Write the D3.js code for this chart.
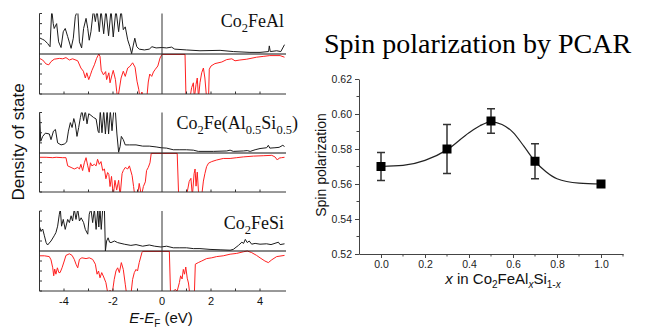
<!DOCTYPE html>
<html><head><meta charset="utf-8">
<script src="https://cdn.jsdelivr.net/npm/d3@7"></script>
<style>html,body{margin:0;padding:0;background:#fff;} svg{display:block;}</style>
</head><body>
<script>
// ---------- DOS data: [E (eV), DOS (panel units, 1 = top of panel)] ----------
const dosAlUp = [[-5.0,0.40],[-4.87,0.36],[-4.8,0.34],[-4.67,0.26],[-4.57,0.18],[-4.5,1.1],[-4.44,0.75],[-4.4,0.63],[-4.3,0.75],[-4.22,0.30],[-4.12,0.16],[-4.03,0.55],[-3.95,0.63],[-3.85,0.43],[-3.71,0.14],[-3.62,0.39],[-3.54,0.92],[-3.44,1.1],[-3.37,0.30],[-3.28,0.15],[-3.2,0.63],[-3.1,0.88],[-3.03,0.63],[-2.97,0.34],[-2.9,0.55],[-2.8,1.1],[-2.72,0.8],[-2.65,1.1],[-2.56,0.55],[-2.49,1.1],[-2.38,0.5],[-2.29,1.1],[-2.18,0.45],[-2.08,1.1],[-1.99,0.42],[-1.88,1.1],[-1.77,0.55],[-1.67,1.1],[-1.58,0.6],[-1.5,0.67],[-1.4,0.35],[-1.31,0.18],[-1.24,0.01],[-1.17,0.22],[-1.11,0.39],[-1.03,0.18],[-0.93,0.12],[-0.72,0.10],[-0.52,0.12],[-0.41,0.18],[-0.24,0.15],[0,0.16],[0.19,0.15],[0.39,0.17],[0.52,0.12],[1.0,0.10],[1.55,0.08],[2.37,0.09],[2.91,0.06],[3.59,0.04],[4.0,0.04],[4.35,0.06],[4.38,0.2],[4.42,0.06],[4.68,0.08],[4.85,0.06],[5.0,0.23]];
const dosAlDn = [[-5.0,-0.11],[-4.87,-0.15],[-4.73,-0.25],[-4.62,-0.27],[-4.53,-0.19],[-4.4,-0.13],[-4.19,-0.11],[-4.05,-0.12],[-3.92,-0.09],[-3.78,-0.15],[-3.65,-0.12],[-3.44,-0.17],[-3.31,-0.35],[-3.21,-0.43],[-3.13,-0.6],[-3.07,-0.47],[-2.99,-0.64],[-2.92,-0.52],[-2.86,-0.41],[-2.76,-0.27],[-2.67,-0.11],[-2.58,0],[-2.53,-0.06],[-2.48,-0.41],[-2.39,-0.52],[-2.3,-0.44],[-2.26,-0.64],[-2.17,-0.47],[-2.12,-0.72],[-2.04,-0.52],[-1.99,-0.41],[-1.9,-0.64],[-1.85,-0.93],[-1.81,-1.1],[-1.76,-0.95],[-1.67,-0.6],[-1.58,-0.43],[-1.5,-0.56],[-1.4,-0.35],[-1.31,-0.31],[-1.2,-0.22],[-1.1,-0.33],[-1.02,-0.68],[-0.95,-0.88],[-0.9,-1.1],[-0.82,-0.95],[-0.76,-1.1],[-0.62,-1.1],[-0.56,-0.7],[-0.5,-0.5],[-0.42,-0.56],[-0.35,-0.45],[-0.27,-0.38],[-0.17,-0.3],[-0.08,-0.1],[0,-0.01],[0.94,-0.01],[0.98,-1.1],[1.14,-1.1],[1.21,-0.84],[1.28,-0.72],[1.32,-1.1],[1.39,-0.76],[1.44,-0.6],[1.49,-1.1],[1.55,-0.72],[1.62,-0.47],[1.69,-0.35],[1.75,-0.6],[1.82,-1.1],[1.9,-1.1],[1.93,-0.38],[2.0,-0.3],[2.16,-0.24],[2.44,-0.2],[2.64,-0.14],[2.85,-0.12],[2.98,-0.17],[3.18,-0.15],[3.46,-0.13],[3.86,-0.08],[4.13,-0.06],[4.4,-0.04],[4.82,-0.04],[5.0,-0.08]];
const dosMixUp = [[-5.0,1.05],[-4.95,0.29],[-4.87,0.41],[-4.76,0.49],[-4.6,0.47],[-4.53,0.33],[-4.43,0.54],[-4.35,0.58],[-4.26,0.25],[-4.12,0.2],[-3.99,0.22],[-3.89,0.27],[-3.82,0.54],[-3.74,0.75],[-3.67,0.63],[-3.6,0.85],[-3.54,0.72],[-3.47,0.41],[-3.4,0.63],[-3.33,0.88],[-3.27,1.05],[-3.2,0.8],[-3.13,1.05],[-3.06,0.72],[-2.99,0.97],[-2.9,0.93],[-2.8,0.88],[-2.69,0.84],[-2.61,0.54],[-2.57,0.5],[-2.52,1.05],[-2.45,0.5],[-2.38,1.05],[-2.31,0.47],[-2.24,1.05],[-2.18,0.47],[-2.11,1.05],[-2.04,0.55],[-1.97,1.05],[-1.9,1.0],[-1.84,0.47],[-1.77,0.02],[-1.71,0.16],[-1.66,0.41],[-1.58,0.33],[-1.5,0.2],[-1.33,0.2],[-1.06,0.2],[-0.79,0.17],[-0.52,0.17],[-0.24,0.15],[-0.04,0.13],[0.19,0.12],[0.46,0.08],[0.73,0.08],[1.0,0.08],[1.28,0.07],[1.48,0.04],[2.1,0.04],[2.64,0.05],[2.78,0.07],[2.91,0.04],[3.32,0.05],[3.48,0.06],[3.6,0.04],[3.8,0.08],[4.0,0.11],[4.27,0.13],[4.34,0.19],[4.4,0.12],[4.61,0.13],[4.78,0.14],[4.93,0.19],[5.0,0.16]];
const dosMixDn = [[-5.0,-0.11],[-4.73,-0.11],[-4.46,-0.12],[-4.32,-0.11],[-4.05,-0.12],[-3.92,-0.12],[-3.85,-0.33],[-3.71,-0.37],[-3.58,-0.41],[-3.44,-0.37],[-3.37,-0.41],[-3.31,-0.29],[-3.24,-0.45],[-3.17,-0.25],[-3.1,-0.12],[-3.03,-0.33],[-2.97,-0.49],[-2.92,-0.25],[-2.86,-0.33],[-2.76,-0.29],[-2.69,-0.33],[-2.63,-0.16],[-2.56,-0.29],[-2.49,-0.22],[-2.42,-0.45],[-2.35,-0.41],[-2.29,-0.66],[-2.22,-0.5],[-2.17,-0.55],[-2.12,-0.86],[-2.06,-0.6],[-1.99,-1.1],[-1.92,-0.7],[-1.85,-0.95],[-1.77,-0.7],[-1.71,-1.1],[-1.63,-0.53],[-1.58,-0.45],[-1.5,-0.37],[-1.4,-0.41],[-1.33,-0.33],[-1.22,-0.58],[-1.16,-0.86],[-1.11,-1.1],[-1.0,-1.1],[-0.93,-0.78],[-0.84,-1.1],[-0.76,-0.86],[-0.68,-0.74],[-0.63,-0.45],[-0.56,-0.37],[-0.49,-0.25],[-0.44,-0.01],[0.62,-0.01],[0.68,-1.1],[1.0,-1.1],[1.11,-0.73],[1.18,-0.65],[1.24,-1.1],[1.31,-0.53],[1.35,-0.41],[1.39,-0.85],[1.44,-0.49],[1.5,-1.1],[1.62,-1.1],[1.69,-0.72],[1.75,-0.53],[1.82,-0.35],[1.9,-0.26],[2.03,-0.22],[2.23,-0.18],[2.5,-0.14],[2.78,-0.14],[3.05,-0.12],[3.32,-0.10],[3.73,-0.08],[4.13,-0.07],[4.48,-0.06],[4.61,-0.1],[4.71,-0.18],[4.78,-0.13],[4.88,-0.12],[5.0,-0.11]];
const dosSiUp = [[-5.0,0.61],[-4.94,0.5],[-4.87,0.55],[-4.8,0.38],[-4.73,0.21],[-4.67,0.15],[-4.53,0.25],[-4.4,0.38],[-4.33,0.46],[-4.26,0.62],[-4.19,0.92],[-4.15,1.05],[-4.1,0.62],[-4.03,0.79],[-3.95,0.54],[-3.85,0.79],[-3.78,0.71],[-3.71,0.88],[-3.65,0.75],[-3.58,1.05],[-3.51,0.79],[-3.44,1.05],[-3.37,0.75],[-3.3,0.83],[-3.2,0.71],[-3.13,0.54],[-3.03,0.42],[-2.97,0.92],[-2.9,1.05],[-2.83,0.71],[-2.76,1.05],[-2.69,0.54],[-2.62,1.05],[-2.58,0.6],[-2.53,1.05],[-2.48,0.54],[-2.42,1.05],[-2.35,1.05],[-2.31,0],[-2.26,0.25],[-2.2,0.33],[-2.14,0.22],[-2.08,0.21],[-1.94,0.25],[-1.81,0.21],[-1.54,0.17],[-1.27,0.14],[-1.06,0.16],[-0.79,0.12],[-0.52,0.15],[-0.3,0.12],[-0.04,0.10],[0.19,0.12],[0.46,0.08],[0.73,0.08],[1.0,0.08],[1.28,0.06],[1.55,0.06],[1.96,0.04],[2.37,0.03],[2.78,0.02],[2.91,0.04],[3.12,0.14],[3.26,0.22],[3.33,0.19],[3.4,0.29],[3.48,0.21],[3.56,0.25],[3.66,0.17],[3.8,0.19],[4.0,0.17],[4.27,0.18],[4.45,0.16],[4.75,0.22],[4.82,0.16],[5.0,0.18]];
const dosSiDn = [[-5.0,-0.12],[-4.8,-0.12],[-4.6,-0.14],[-4.53,-0.22],[-4.46,-0.42],[-4.42,-0.62],[-4.38,-0.45],[-4.33,-0.58],[-4.27,-0.42],[-4.21,-0.54],[-4.16,-0.54],[-4.08,-0.42],[-3.99,-0.25],[-3.92,-0.11],[-3.78,-0.07],[-3.67,-0.11],[-3.58,-0.21],[-3.51,-0.33],[-3.44,-0.42],[-3.37,-0.21],[-3.27,-0.17],[-3.1,-0.19],[-2.97,-0.17],[-2.83,-0.21],[-2.72,-0.33],[-2.65,-0.58],[-2.59,-0.5],[-2.53,-0.67],[-2.46,-0.54],[-2.38,-0.65],[-2.29,-0.79],[-2.2,-1.1],[-2.12,-0.98],[-2.04,-1.1],[-1.95,-0.71],[-1.88,-0.5],[-1.81,-0.42],[-1.74,-0.54],[-1.66,-0.29],[-1.58,-0.46],[-1.5,-0.83],[-1.44,-1.1],[-1.27,-1.1],[-1.2,-0.71],[-1.13,-0.54],[-1.06,-0.46],[-1.0,-0.5],[-0.93,-0.29],[-0.82,-0.04],[-0.79,-0.01],[0.3,-0.01],[0.35,-1.1],[0.53,-0.96],[0.62,-1.0],[0.71,-0.79],[0.76,-0.62],[0.82,-0.7],[0.87,-0.46],[0.92,-0.58],[0.97,-0.4],[1.03,-0.68],[1.08,-0.8],[1.14,-1.1],[1.32,-1.1],[1.36,-0.33],[1.48,-0.29],[1.62,-0.25],[1.82,-0.19],[2.03,-0.17],[2.23,-0.14],[2.5,-0.12],[2.78,-0.08],[3.05,-0.06],[3.32,-0.02],[3.48,0],[3.66,-0.04],[3.86,-0.11],[4.0,-0.17],[4.2,-0.25],[4.34,-0.29],[4.48,-0.22],[4.68,-0.14],[5.0,-0.11]];
const energyTicks = [-4,-2,0,2,4];
const energyMinor = [-4,-3,-2,-1,1,2,3,4];
const dosTicks = [-1,-0.75,-0.5,-0.25,0.25,0.5,0.75,1];

// ---------- PCAR data ----------
const xComp = [0.0, 0.3, 0.5, 0.7, 1.0];
const spinPol = [0.570, 0.580, 0.596, 0.573, 0.560];
const spinErr = [0.008, 0.014, 0.007, 0.010, 0.0];
const fitX = [0.0, 0.1, 0.2, 0.3, 0.4, 0.45, 0.5, 0.55, 0.6, 0.65, 0.7, 0.75, 0.8, 0.9, 1.0];
const fitY = [0.5700, 0.5706, 0.5735, 0.5795, 0.5893, 0.5933, 0.5955, 0.5940, 0.5895, 0.5815, 0.5730, 0.5670, 0.5630, 0.5605, 0.5600];
const yTicks = [0.52, 0.54, 0.56, 0.58, 0.60, 0.62];
const yMinor = [0.53, 0.55, 0.57, 0.59, 0.61];
const xTicks = [0.0, 0.2, 0.4, 0.6, 0.8, 1.0];
const xMinor = [0.1, 0.3, 0.5, 0.7, 0.9, 1.1];

const W = 648, H = 329;
const sans = "'Liberation Sans', Arial, Helvetica, sans-serif";
const serif = "'Liberation Serif', 'Times New Roman', Times, serif";
const svg = d3.select("body").append("svg").attr("width", W).attr("height", H);
svg.append("rect").attr("width", W).attr("height", H).attr("fill", "#fff");

// ================= DOS panels =================
const xDos = d3.scaleLinear().domain([-5, 5]).range([39.5, 284.5]);
const panels = [
  {top: 13.5, zero: 54, bottom: 94, up: dosAlUp, dn: dosAlDn, lx: 284, ly: 26.5,
   label: [["Co",0],["2",1],["FeAl",0]]},
  {top: 112.5, zero: 153, bottom: 192, up: dosMixUp, dn: dosMixDn, lx: 298, ly: 129,
   label: [["Co",0],["2",1],["Fe(Al",0],["0.5",1],["Si",0],["0.5",1],[")",0]]},
  {top: 211, zero: 251, bottom: 291, up: dosSiUp, dn: dosSiDn, lx: 284, ly: 229,
   label: [["Co",0],["2",1],["FeSi",0]]}
];
panels.forEach((p, i) => {
  const y = d3.scaleLinear().domain([-1, 0, 1]).range([p.bottom, p.zero, p.top]);
  const g = svg.append("g");
  const cid = "clipdos" + i;
  svg.append("clipPath").attr("id", cid).append("rect")
    .attr("x", xDos(-5)).attr("y", p.top).attr("width", xDos(5) - xDos(-5) + 1).attr("height", p.bottom - p.top);
  const line = d3.line().x(d => xDos(d[0])).y(d => y(d[1]));
  g.append("path").datum(p.dn).attr("d", line).attr("fill", "none")
    .attr("stroke", "#ff2020").attr("stroke-width", 1).attr("clip-path", `url(#${cid})`);
  g.append("path").datum(p.up).attr("d", line).attr("fill", "none")
    .attr("stroke", "#1c1c1c").attr("stroke-width", 1).attr("clip-path", `url(#${cid})`);
  // frame lines
  const ax = "#333";
  g.append("line").attr("x1", xDos(-5)).attr("x2", xDos(-5)).attr("y1", p.top).attr("y2", p.bottom).attr("stroke", ax);
  g.append("line").attr("x1", xDos(-5)).attr("x2", xDos(5) + 1.5).attr("y1", p.bottom).attr("y2", p.bottom).attr("stroke", ax);
  g.append("line").attr("x1", xDos(-5)).attr("x2", xDos(5) + 1.5).attr("y1", p.zero).attr("y2", p.zero).attr("stroke", "#111");
  g.append("line").attr("x1", xDos(0)).attr("x2", xDos(0)).attr("y1", p.top).attr("y2", p.bottom).attr("stroke", ax);
  g.selectAll(".lt").data(dosTicks).join("line")
    .attr("x1", xDos(-5)).attr("x2", xDos(-5) + 2.5).attr("y1", d => y(d)).attr("y2", d => y(d)).attr("stroke", ax);
  g.selectAll(".bt").data(energyMinor).join("line")
    .attr("x1", d => xDos(d)).attr("x2", d => xDos(d)).attr("y1", p.bottom).attr("y2", p.bottom - 2.5).attr("stroke", ax);
  // label
  const t = g.append("text").attr("x", p.lx).attr("y", p.ly).attr("text-anchor", "end")
    .attr("font-family", serif).attr("font-size", 18).attr("fill", "#111");
  let prevSub = 0;
  p.label.forEach(([s, sub]) => {
    const ts = t.append("tspan").text(s);
    if (sub && !prevSub) ts.attr("dy", 5).attr("font-size", 12.5);
    else if (sub) ts.attr("font-size", 12.5);
    else if (!sub && prevSub) ts.attr("dy", -5);
    prevSub = sub;
  });
  if (i === 2) {
    g.selectAll(".tl").data(energyTicks).join("text")
      .attr("x", d => xDos(d)).attr("y", 304.5).attr("text-anchor", "middle")
      .attr("font-family", sans).attr("font-size", 11).attr("fill", "#111")
      .text(d => d);
  }
});
// E-E_F (eV)
const exl = svg.append("text").attr("x", 161).attr("y", 322.5).attr("text-anchor", "middle")
  .attr("font-family", sans).attr("font-size", 15).attr("fill", "#111");
exl.append("tspan").attr("font-style", "italic").text("E");
exl.append("tspan").text("-");
exl.append("tspan").attr("font-style", "italic").text("E");
exl.append("tspan").attr("font-size", 10).attr("dy", 4).text("F");
exl.append("tspan").attr("dy", -4).text(" (eV)");
svg.append("text").attr("transform", "translate(24,142) rotate(-90)").attr("text-anchor", "middle")
  .attr("font-family", sans).attr("font-size", 17).attr("fill", "#111").text("Density of state");

// ================= PCAR chart =================
svg.append("text").attr("x", 477.5).attr("y", 53).attr("text-anchor", "middle")
  .attr("font-family", serif).attr("font-size", 28).attr("fill", "#000").text("Spin polarization by PCAR");

const xS = d3.scaleLinear().domain([-0.1, 1.1]).range([359, 623]);
const yS = d3.scaleLinear().domain([0.52, 0.62]).range([254, 79]);
const axCol = "#444";
const gy = svg.append("g").attr("transform", `translate(${xS(-0.1)},0)`)
  .call(d3.axisLeft(yS).tickValues(yTicks).tickFormat(d3.format(".2f")).tickSize(4).tickSizeOuter(0));
const gx = svg.append("g").attr("transform", `translate(0,${yS(0.52)})`)
  .call(d3.axisBottom(xS).tickValues(xTicks).tickFormat(d3.format(".1f")).tickSize(4).tickSizeOuter(0));
[gy, gx].forEach(g => {
  g.selectAll("path,line").attr("stroke", axCol);
  g.selectAll("text").attr("font-family", sans).attr("font-size", 10.5).attr("fill", "#222");
});
svg.append("g").selectAll("line").data(yMinor).join("line")
  .attr("x1", xS(-0.1) - 2.5).attr("x2", xS(-0.1)).attr("y1", d => yS(d)).attr("y2", d => yS(d)).attr("stroke", axCol);
svg.append("g").selectAll("line").data(xMinor).join("line")
  .attr("x1", d => xS(d)).attr("x2", d => xS(d)).attr("y1", yS(0.52)).attr("y2", yS(0.52) + 2.5).attr("stroke", axCol);

// fit curve
const fitData = fitX.map((x, i) => [x, fitY[i]]);
svg.append("path").datum(fitData)
  .attr("d", d3.line().x(d => xS(d[0])).y(d => yS(d[1])).curve(d3.curveMonotoneX))
  .attr("fill", "none").attr("stroke", "#222").attr("stroke-width", 1.2);

// error bars + markers
const pts = xComp.map((x, i) => ({x, y: spinPol[i], e: spinErr[i]}));
const eb = svg.append("g").attr("stroke", "#333").attr("stroke-width", 1.5);
pts.filter(d => d.e > 0).forEach(d => {
  eb.append("line").attr("x1", xS(d.x)).attr("x2", xS(d.x)).attr("y1", yS(d.y - d.e)).attr("y2", yS(d.y + d.e));
  eb.append("line").attr("x1", xS(d.x) - 4).attr("x2", xS(d.x) + 4).attr("y1", yS(d.y - d.e)).attr("y2", yS(d.y - d.e));
  eb.append("line").attr("x1", xS(d.x) - 4).attr("x2", xS(d.x) + 4).attr("y1", yS(d.y + d.e)).attr("y2", yS(d.y + d.e));
});
svg.append("g").selectAll("rect").data(pts).join("rect")
  .attr("x", d => xS(d.x) - 4.5).attr("y", d => yS(d.y) - 4.5).attr("width", 9).attr("height", 9).attr("fill", "#000");

// axis titles
svg.append("text").attr("transform", "translate(325.5,165) rotate(-90)").attr("text-anchor", "middle")
  .attr("font-family", sans).attr("font-size", 14).attr("fill", "#111").text("Spin polarization");
const xl = svg.append("text").attr("x", 503).attr("y", 283.5).attr("text-anchor", "middle")
  .attr("font-family", sans).attr("font-size", 15).attr("fill", "#111");
xl.append("tspan").attr("font-style", "italic").text("x");
xl.append("tspan").text(" in Co");
xl.append("tspan").attr("font-size", 10).attr("dy", 4).text("2");
xl.append("tspan").attr("dy", -4).text("FeAl");
xl.append("tspan").attr("font-size", 10).attr("dy", 4).attr("font-style", "italic").text("x");
xl.append("tspan").attr("dy", -4).text("Si");
xl.append("tspan").attr("font-size", 10).attr("dy", 4).text("1-");
xl.append("tspan").attr("font-size", 10).attr("font-style", "italic").text("x");
</script>
</body></html>
